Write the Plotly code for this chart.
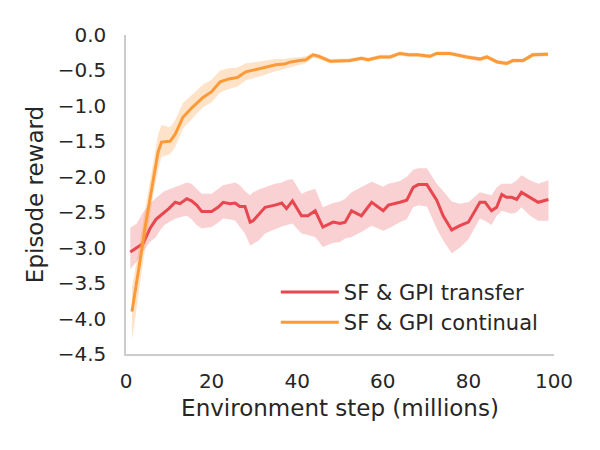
import plotly.graph_objects as go

# ---- data ----
transfer_x = [1, 2.5, 4, 5.6, 7, 8, 9, 10, 11.5, 12.6, 14.2, 15.3, 16.5, 17.7, 20, 21.5, 22.7, 24.3, 25.5, 26.6,
              27.8, 29, 29.7, 31, 32.5, 34.8, 36.4, 37.5, 38.9, 41, 42.5, 44.2, 46, 48.4, 50, 51.2, 52.7, 55, 57.4,
              60.1, 61.3, 64, 65.6, 67.1, 68.3, 70.3, 72.6, 74.1, 76.1, 78, 80, 82.7, 83.9, 85.4, 86.6, 87.8, 88.9,
              90.1, 91.3, 92.4, 94.4, 96.3, 98.7]
transfer_mean = [-3.06, -3.0, -2.94, -2.73, -2.6, -2.55, -2.5, -2.45, -2.36, -2.38, -2.31, -2.34, -2.4, -2.49, -2.49,
                 -2.43, -2.36, -2.38, -2.37, -2.42, -2.42, -2.64, -2.62, -2.53, -2.43, -2.40, -2.37, -2.45, -2.34,
                 -2.55, -2.55, -2.48, -2.71, -2.64, -2.66, -2.64, -2.48, -2.55, -2.36, -2.48, -2.40, -2.36, -2.33,
                 -2.15, -2.11, -2.11, -2.33, -2.55, -2.75, -2.69, -2.64, -2.36, -2.36, -2.48, -2.43, -2.25, -2.29,
                 -2.29, -2.32, -2.22, -2.29, -2.36, -2.32]
transfer_lo = [-3.30, -3.2, -3.05, -2.92, -2.85, -2.75, -2.68, -2.64, -2.59, -2.57, -2.55, -2.6, -2.68, -2.73, -2.71,
               -2.65, -2.59, -2.6, -2.62, -2.7, -2.8, -2.97, -2.95, -2.9, -2.8, -2.74, -2.7, -2.68, -2.66,
               -2.8, -2.82, -2.85, -2.99, -2.93, -2.92, -2.87, -2.85, -2.78, -2.69, -2.76, -2.73, -2.64, -2.6,
               -2.43, -2.4, -2.42, -2.73, -2.9, -3.08, -3.0, -2.88, -2.59, -2.62, -2.68, -2.55, -2.48, -2.5,
               -2.52, -2.5, -2.43, -2.55, -2.62, -2.62]
transfer_hi = [-2.72, -2.66, -2.5, -2.38, -2.3, -2.25, -2.2, -2.18, -2.15, -2.12, -2.08, -2.1, -2.17, -2.24, -2.24,
               -2.17, -2.12, -2.1, -2.08, -2.12, -2.2, -2.26, -2.22, -2.18, -2.15, -2.1, -2.08, -2.05, -2.03,
               -2.24, -2.2, -2.17, -2.43, -2.37, -2.35, -2.31, -2.22, -2.15, -2.07, -2.14, -2.1, -2.06, -2.0,
               -1.9, -1.88, -1.88, -2.1, -2.2, -2.35, -2.38, -2.36, -2.22, -2.24, -2.26, -2.15, -2.1, -2.1,
               -2.1, -2.05, -1.98, -2.05, -2.1, -2.05]

continual_x = [1.4, 2.5, 3.5, 4.5, 5.6, 6.5, 7.5, 8.3, 10.3, 11.5, 13.3, 15.5, 18, 20, 22, 24, 26, 28, 30, 32, 35,
               37, 38.5, 40.6, 42, 43.7, 45, 47.7, 50, 52.3, 55, 56.6, 59.3, 61.7, 64, 66, 68, 71, 72.6, 75.7,
               79.6, 82.7, 84.3, 86.7, 89, 90.4, 92.8, 95, 98.6]
continual_mean = [-3.9, -3.5, -3.1, -2.7, -2.3, -1.95, -1.65, -1.51, -1.5, -1.4, -1.16, -1.02, -0.88, -0.8, -0.66,
                  -0.62, -0.6, -0.52, -0.49, -0.47, -0.42, -0.41, -0.38, -0.36, -0.35, -0.28, -0.3, -0.37, -0.37,
                  -0.36, -0.33, -0.35, -0.31, -0.31, -0.26, -0.28, -0.28, -0.30, -0.26, -0.26, -0.31, -0.34, -0.31,
                  -0.38, -0.40, -0.36, -0.36, -0.28, -0.27]
continual_lo = [-4.3, -3.85, -3.4, -2.95, -2.55, -2.2, -1.9, -1.72, -1.68, -1.58, -1.32, -1.18, -1.02, -0.95, -0.81,
                -0.76, -0.73, -0.64, -0.6, -0.57, -0.51, -0.48, -0.45, -0.42, -0.4, -0.32, -0.34, -0.4, -0.4,
                -0.39, -0.36, -0.38, -0.34, -0.34, -0.29, -0.31, -0.31, -0.33, -0.29, -0.29, -0.34, -0.37, -0.34,
                -0.41, -0.43, -0.39, -0.39, -0.31, -0.3]
continual_hi = [-3.55, -3.2, -2.8, -2.45, -2.05, -1.7, -1.4, -1.27, -1.3, -1.2, -0.96, -0.84, -0.7, -0.63, -0.5,
                -0.47, -0.46, -0.4, -0.38, -0.37, -0.34, -0.34, -0.32, -0.31, -0.3, -0.25, -0.27, -0.34, -0.34,
                -0.33, -0.3, -0.32, -0.28, -0.28, -0.23, -0.25, -0.25, -0.27, -0.23, -0.23, -0.28, -0.31, -0.28,
                -0.35, -0.37, -0.33, -0.33, -0.25, -0.24]

x_ticks = [0, 20, 40, 60, 80, 100]
y_ticks = [0.0, -0.5, -1.0, -1.5, -2.0, -2.5, -3.0, -3.5, -4.0, -4.5]

RED = "#e8474f"
ORANGE = "#fd9a38"
RED_BAND = "rgba(232,71,79,0.25)"
ORANGE_BAND = "rgba(253,154,56,0.28)"
FONT = "DejaVu Sans"
TXT = "#262626"

fig = go.Figure()


def band(xs, lo, hi, color):
    return go.Scatter(x=list(xs) + list(xs)[::-1], y=list(hi) + list(lo)[::-1], fill="toself",
                      fillcolor=color, line=dict(width=0), mode="lines", hoverinfo="skip",
                      showlegend=False)


fig.add_trace(band(transfer_x, transfer_lo, transfer_hi, RED_BAND))
fig.add_trace(go.Scatter(x=transfer_x, y=transfer_mean, mode="lines", name="SF & GPI transfer",
                         line=dict(color=RED, width=3)))
fig.add_trace(band(continual_x, continual_lo, continual_hi, ORANGE_BAND))
fig.add_trace(go.Scatter(x=continual_x, y=continual_mean, mode="lines", name="SF & GPI continual",
                         line=dict(color=ORANGE, width=3)))

fig.update_layout(
    width=600, height=450,
    margin=dict(l=126, r=46, t=35, b=96),
    paper_bgcolor="white", plot_bgcolor="white",
    font=dict(family=FONT, color=TXT, size=20),
    showlegend=True,
    legend=dict(x=0.35, y=0.035, xanchor="left", yanchor="bottom", bgcolor="rgba(0,0,0,0)",
                font=dict(size=21, color=TXT), itemwidth=58, tracegroupgap=0),
    xaxis=dict(range=[0, 100], tickvals=x_ticks, ticktext=[str(v) for v in x_ticks],
               showgrid=False, zeroline=False, showline=True, linecolor="#cccccc", linewidth=1.5,
               ticks="", ticklabelstandoff=8, tickfont=dict(size=20, color=TXT),
               title=dict(text="Environment step (millions)", font=dict(size=23, color=TXT), standoff=8)),
    yaxis=dict(range=[-4.5, 0], tickvals=y_ticks, tickformat=".1f",
               showgrid=False, zeroline=False, showline=True, linecolor="#cccccc", linewidth=1.5,
               ticks="", ticklabelstandoff=14, tickfont=dict(size=20, color=TXT),
               title=dict(text="Episode reward", font=dict(size=23, color=TXT), standoff=8)),
)

fig.write_html("out.html")
